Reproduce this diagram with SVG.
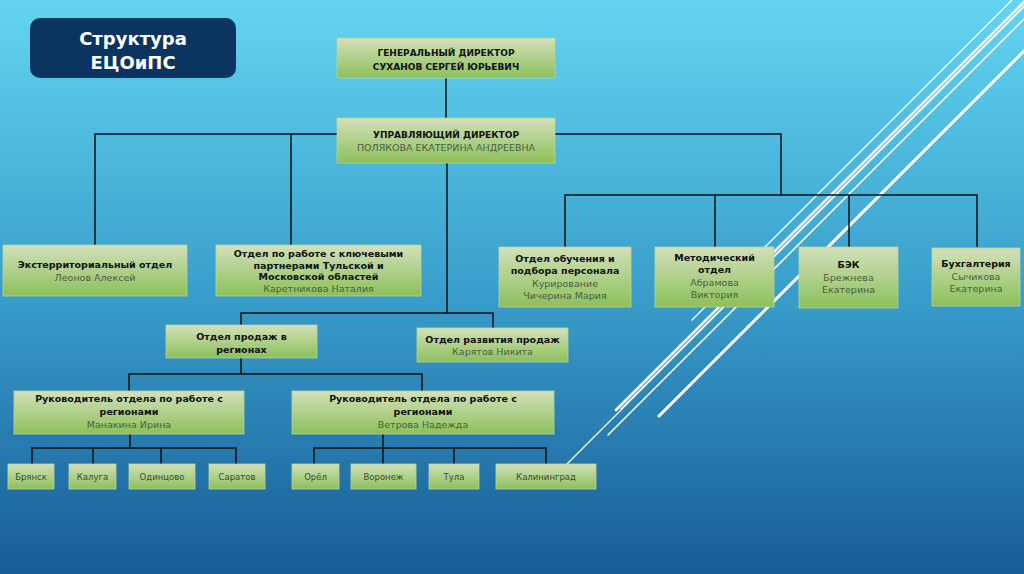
<svg xmlns="http://www.w3.org/2000/svg" width="1024" height="574" viewBox="0 0 1024 574">
<defs>
<linearGradient id="bg" x1="0" y1="0" x2="0" y2="1">
<stop offset="0" stop-color="#63d5f0"/>
<stop offset="0.5" stop-color="#3a9fcc"/>
<stop offset="1" stop-color="#175d95"/>
</linearGradient>
<linearGradient id="box" x1="0" y1="0" x2="0" y2="1">
<stop offset="0" stop-color="#d3e0bb"/>
<stop offset="1" stop-color="#8cc05a"/>
</linearGradient>
<style>
.b{fill:url(#box);stroke:#b9d596;stroke-width:0.8}
.t{font-family:"DejaVu Sans",sans-serif;font-weight:bold;font-size:9.5px;fill:#111;text-anchor:middle}
.c{font-family:"DejaVu Sans",sans-serif;font-weight:bold;font-size:9px;fill:#111;text-anchor:middle}
.n{font-family:"DejaVu Sans",sans-serif;font-size:9.5px;fill:#4c5f3f;text-anchor:middle}
.s{font-family:"DejaVu Sans",sans-serif;font-size:8.5px;fill:#3c4c32;text-anchor:middle}
.dec line{stroke:#fff;stroke-linecap:round}
#connectors path{fill:none;stroke:#111;stroke-width:1.5}
</style>
</defs>
<rect width="1024" height="574" fill="url(#bg)"/>
<g class="dec">
<line x1="1012" y1="0" x2="692" y2="320" stroke-width="1.3"/>
<line x1="1026" y1="0" x2="616" y2="410" stroke-width="2.6"/>
<line x1="1030" y1="0" x2="621" y2="409" stroke-width="1.2"/>
<line x1="1031" y1="0" x2="566" y2="465" stroke-width="1.2"/>
<line x1="1043" y1="0" x2="608" y2="435" stroke-width="1.5"/>
<line x1="1075" y1="0" x2="659" y2="416" stroke-width="3"/>
</g>
<g id="title">
<rect x="30" y="18" width="206" height="60" rx="10" fill="#0b3460"/>
<text x="133" y="45" font-family="DejaVu Sans,sans-serif" font-weight="bold" font-size="18" fill="#fff" text-anchor="middle">Структура</text>
<text x="133" y="69" font-family="DejaVu Sans,sans-serif" font-weight="bold" font-size="18" fill="#fff" text-anchor="middle">ЕЦОиПС</text>
</g>
<g id="connectors">
<path d="M446,78V118"/>
<path d="M337,134H95V245M291,134V245"/>
<path d="M555,134H781V195M565,247V195H977V247M715,195V247M849,195V247"/>
<path d="M447,163V313M241,325V313H493V328"/>
<path d="M241,358V374M129,391V374H422V391"/>
<path d="M130,434V448M32,464V448H236V464M93,448V464M161,448V464"/>
<path d="M383,434V464M314,464V448H546V464M454,448V464"/>
</g>
<g id="gen">
<rect class="b" x="337" y="38" width="218" height="40"/>
<text class="c" x="446" y="56">ГЕНЕРАЛЬНЫЙ ДИРЕКТОР</text>
<text class="c" x="446" y="70">СУХАНОВ СЕРГЕЙ ЮРЬЕВИЧ</text>
</g>
<g id="uprav">
<rect class="b" x="337" y="118" width="218" height="45"/>
<text class="c" x="446" y="138">УПРАВЛЯЮЩИЙ ДИРЕКТОР</text>
<text class="n" x="446" y="151">ПОЛЯКОВА ЕКАТЕРИНА АНДРЕЕВНА</text>
</g>
<g id="exterr">
<rect class="b" x="3" y="245" width="184" height="51"/>
<text class="t" x="95" y="268" font-size="10">Экстерриториальный отдел</text>
<text class="n" x="95" y="281">Леонов Алексей</text>
</g>
<g id="klyuch">
<rect class="b" x="216" y="245" width="205" height="51"/>
<text class="t" x="318.5" y="257">Отдел по работе с ключевыми</text>
<text class="t" x="318.5" y="268.5">партнерами Тульской и</text>
<text class="t" x="318.5" y="280">Московской областей</text>
<text class="n" x="318.5" y="292">Каретникова Наталия</text>
</g>
<g id="obuch">
<rect class="b" x="499" y="247" width="132" height="60"/>
<text class="t" x="565" y="262">Отдел обучения и</text>
<text class="t" x="565" y="274">подбора персонала</text>
<text class="n" x="565" y="287">Курирование</text>
<text class="n" x="565" y="299">Чичерина Мария</text>
</g>
<g id="metod">
<rect class="b" x="655" y="247" width="119" height="60"/>
<text class="t" x="714.5" y="261">Методический</text>
<text class="t" x="714.5" y="273">отдел</text>
<text class="n" x="714.5" y="286">Абрамова</text>
<text class="n" x="714.5" y="298">Виктория</text>
</g>
<g id="bek">
<rect class="b" x="799" y="247" width="99" height="61"/>
<text class="t" x="848.5" y="268">БЭК</text>
<text class="n" x="848.5" y="281">Брежнева</text>
<text class="n" x="848.5" y="293">Екатерина</text>
</g>
<g id="buh">
<rect class="b" x="932" y="248" width="88" height="58"/>
<text class="t" x="976" y="267">Бухгалтерия</text>
<text class="n" x="976" y="280">Сычикова</text>
<text class="n" x="976" y="292">Екатерина</text>
</g>
<g id="prodazh">
<rect class="b" x="166" y="325" width="151" height="33"/>
<text class="t" x="241.5" y="340">Отдел продаж в</text>
<text class="t" x="241.5" y="353">регионах</text>
</g>
<g id="razv">
<rect class="b" x="417" y="328" width="151" height="34"/>
<text class="t" x="492.5" y="343">Отдел развития продаж</text>
<text class="n" x="492.5" y="355">Карятов Никита</text>
</g>
<g id="ruk1">
<rect class="b" x="14" y="391" width="230" height="43"/>
<text class="t" x="129" y="402">Руководитель отдела по работе с</text>
<text class="t" x="129" y="415">регионами</text>
<text class="n" x="129" y="428">Манакина Ирина</text>
</g>
<g id="ruk2">
<rect class="b" x="292" y="391" width="262" height="43"/>
<text class="t" x="423" y="402">Руководитель отдела по работе с</text>
<text class="t" x="423" y="415">регионами</text>
<text class="n" x="423" y="428">Ветрова Надежда</text>
</g>
<g id="bryansk"><rect class="b" x="8" y="464" width="46" height="25"/><text class="s" x="31" y="480">Брянск</text></g>
<g id="kaluga"><rect class="b" x="69" y="464" width="47" height="25"/><text class="s" x="92.5" y="480">Калуга</text></g>
<g id="odintsovo"><rect class="b" x="129" y="464" width="66" height="25"/><text class="s" x="162" y="480">Одинцово</text></g>
<g id="saratov"><rect class="b" x="209" y="464" width="56" height="25"/><text class="s" x="237" y="480">Саратов</text></g>
<g id="orel"><rect class="b" x="292" y="464" width="47" height="25"/><text class="s" x="315.5" y="480">Орёл</text></g>
<g id="voronezh"><rect class="b" x="351" y="464" width="65" height="25"/><text class="s" x="383.5" y="480">Воронеж</text></g>
<g id="tula"><rect class="b" x="429" y="464" width="50" height="25"/><text class="s" x="454" y="480">Тула</text></g>
<g id="kaliningrad"><rect class="b" x="496" y="464" width="100" height="25"/><text class="s" x="546" y="480">Калининград</text></g>
</svg>
